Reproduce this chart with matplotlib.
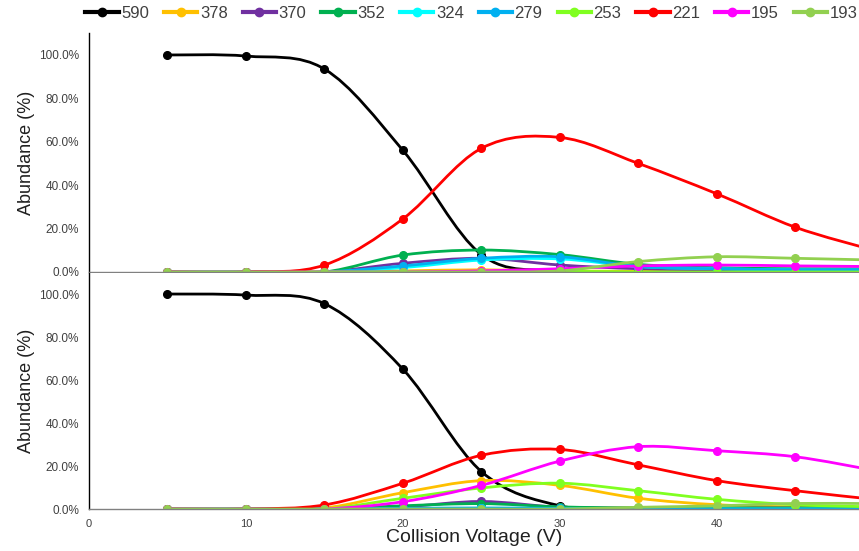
import numpy as np
import matplotlib
matplotlib.use("Agg")
import matplotlib.pyplot as plt
from matplotlib.path import Path
from matplotlib.patches import PathPatch
from matplotlib.lines import Line2D
from matplotlib.ticker import PercentFormatter

plt.rcParams["font.family"] = ["Liberation Sans", "DejaVu Sans"]

# collision voltage (V)
voltage = [5, 10, 15, 20, 25, 30, 35, 40, 45, 50]

ions = ["590", "378", "370", "352", "324", "279", "253", "221", "195", "193"]
colors = ["#000000", "#FFC000", "#7030A0", "#00B050", "#00FFFF",
          "#00B0F0", "#80FF20", "#FF0000", "#FF00FF", "#92D050"]

# top panel abundances (%)
top_590 = [100, 99.5, 93.5, 56, 8, 0.5, 0, 0, 0, 0]
top_378 = [0, 0, 0, 0.5, 1, 0.5, 0.3, 0.2, 0.2, 0.2]
top_370 = [0, 0, 0, 4, 6.3, 3.2, 1.5, 1, 0.8, 0.8]
top_352 = [0, 0, 0, 7.8, 10.1, 8, 3.5, 2, 1.5, 1.5]
top_324 = [0, 0, 0, 2, 5.5, 6, 2.5, 1.5, 1, 1]
top_279 = [0, 0, 0, 2.8, 6.3, 7, 2.5, 1.5, 1, 1]
top_253 = [0, 0, 0, 0, 0, 0.3, 0, 0, 0, 0]
top_221 = [0, 0, 3.2, 24.5, 57, 62, 50, 36, 20.6, 10]
top_195 = [0, 0, 0, 0, 0.5, 1.5, 2.8, 3.2, 2.8, 2.5]
top_193 = [0, 0, 0, 0, 0, 0.5, 4.8, 7, 6.3, 5.5]

# bottom panel abundances (%)
bot_590 = [100, 99.5, 95.5, 65, 17.4, 1.5, 0, 0, 0, 0]
bot_378 = [0, 0, 0.5, 7.6, 13.2, 11, 5, 2, 1, 0.8]
bot_370 = [0, 0, 0, 1, 3.5, 0.8, 0.5, 0.5, 0.5, 0.5]
bot_352 = [0, 0, 0, 1.5, 2.5, 1, 0.5, 0.5, 0.5, 0.5]
bot_324 = [0, 0, 0, 0, 0.3, 0.2, 0, 0, 0, 0]
bot_279 = [0, 0, 0, 0.3, 0.5, 0.3, 0, 0, 0, 0]
bot_253 = [0, 0, 0, 5, 9.8, 12, 8.5, 4.5, 2, 1]
bot_221 = [0, 0, 1.9, 12, 25, 27.7, 20.5, 13.2, 8.5, 4.5]
bot_195 = [0, 0, 0, 3.4, 11, 22.3, 29, 27.1, 24.3, 18]
bot_193 = [0, 0, 0, 0, 0, 0, 0.8, 1.5, 2.6, 2.5]

top_data = [top_590, top_378, top_370, top_352, top_324,
            top_279, top_253, top_221, top_195, top_193]
bot_data = [bot_590, bot_378, bot_370, bot_352, bot_324,
            bot_279, bot_253, bot_221, bot_195, bot_193]


# smoothed line like a spreadsheet "smoothed line" chart (bezier segments)
def smooth_path(x, y):
    pts = np.column_stack([x, y]).astype(float)
    n = len(pts)
    verts = [pts[0]]
    codes = [Path.MOVETO]
    for i in range(n - 1):
        p0 = pts[i - 1] if i > 0 else pts[i]
        p1 = pts[i]
        p2 = pts[i + 1]
        p3 = pts[i + 2] if i + 2 < n else pts[i + 1]
        c1 = p1 + (p2 - p0) / 6.0
        c2 = p2 - (p3 - p1) / 6.0
        verts += [c1, c2, p2]
        codes += [Path.CURVE4] * 3
    return Path(verts, codes)


def draw_panel(ax, data):
    for vals, col in zip(data, colors):
        patch = PathPatch(smooth_path(voltage, vals), fill=False,
                          edgecolor=col, lw=2.0, capstyle="round")
        ax.add_patch(patch)
        ax.plot(voltage, vals, linestyle="none", marker="o",
                markersize=5.5, color=col)
    ax.set_xlim(0, 49.05)
    ax.set_ylim(0, 110)
    ax.set_yticks([0, 20, 40, 60, 80, 100])
    ax.yaxis.set_major_formatter(PercentFormatter(xmax=100, decimals=1))
    ax.set_xticks([0, 10, 20, 30, 40])
    ax.tick_params(axis="y", length=0, labelsize=8.5, colors="#404040", pad=7)
    ax.tick_params(axis="x", length=0, labelsize=8, colors="#404040", pad=7)
    for s in ["top", "right"]:
        ax.spines[s].set_visible(False)
    ax.spines["left"].set_color("black")
    ax.spines["left"].set_linewidth(1.0)
    ax.spines["bottom"].set_color("#808080")
    ax.spines["bottom"].set_linewidth(1.0)
    ax.set_ylabel("Abundance (%)", fontsize=13, color="#202020")
    ax.yaxis.set_label_coords(-0.07, 0.5)


fig = plt.figure(figsize=(8.59, 5.51), dpi=100)
ax1 = fig.add_axes([0.1036, 0.5064, 0.8964, 0.4332])
ax2 = fig.add_axes([0.1036, 0.0762, 0.8964, 0.4292])

draw_panel(ax1, top_data)
draw_panel(ax2, bot_data)
ax1.tick_params(labelbottom=False)
ax2.set_xlabel("Collision Voltage (V)", fontsize=14, color="#202020", labelpad=0)

handles = [Line2D([], [], color=c, lw=3, marker="o", markersize=6) for c in colors]
fig.legend(handles, ions, loc="center left", bbox_to_anchor=(0.082, 0.976), ncol=10,
           frameon=False, fontsize=12, handlelength=2.0, handletextpad=0.15,
           columnspacing=0.9, labelcolor="#404040")

fig.savefig("out.png", dpi=100)
